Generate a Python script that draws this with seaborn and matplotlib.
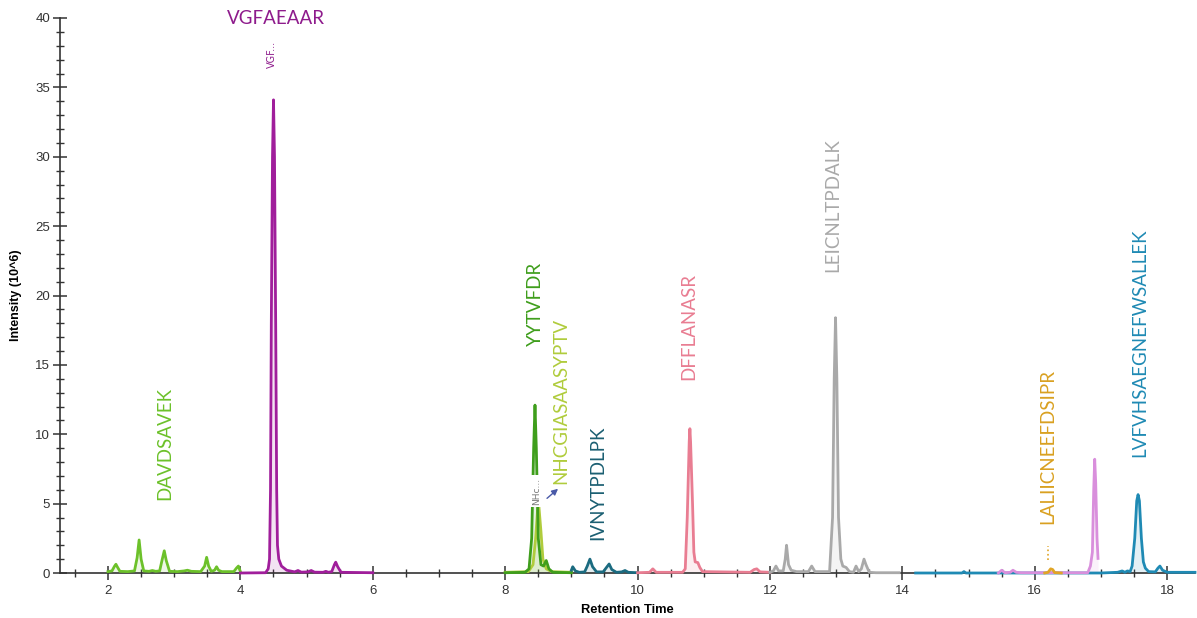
import numpy as np
import pandas as pd
import matplotlib
matplotlib.use('Agg')
import matplotlib.pyplot as plt
from matplotlib.ticker import MultipleLocator
import seaborn as sns

# ---- traces: (retention time, intensity 10^6) vertices ----
davdsavek_t = [2.00, 2.06, 2.10, 2.12, 2.14, 2.18, 2.30, 2.40, 2.44, 2.47, 2.50, 2.54, 2.62, 2.67, 2.72,
               2.78, 2.82, 2.85, 2.88, 2.93, 3.05, 3.15, 3.20, 3.26, 3.40, 3.46, 3.49, 3.52, 3.56, 3.61,
               3.64, 3.67, 3.72, 3.90, 3.94, 3.97, 4.00]
davdsavek_y = [0.10, 0.15, 0.50, 0.63, 0.45, 0.12, 0.10, 0.15, 1.10, 2.38, 1.00, 0.15, 0.12, 0.18, 0.12,
               0.15, 1.00, 1.60, 0.90, 0.12, 0.10, 0.15, 0.20, 0.12, 0.10, 0.50, 1.13, 0.50, 0.12, 0.20,
               0.45, 0.20, 0.10, 0.10, 0.35, 0.50, 0.10]

vgfaeaar_t = [4.00, 4.38, 4.42, 4.44, 4.455, 4.467, 4.485, 4.50, 4.515, 4.533, 4.548, 4.56, 4.58, 4.62,
              4.70, 4.82, 4.87, 4.92, 5.02, 5.07, 5.12, 5.25, 5.29, 5.33, 5.38, 5.42, 5.44, 5.47, 5.52, 6.00]
vgfaeaar_y = [0.00, 0.02, 0.30, 1.0, 6.0, 18.0, 30.0, 34.1, 30.0, 18.0, 6.0, 2.0, 1.0, 0.5,
              0.20, 0.08, 0.18, 0.06, 0.08, 0.18, 0.06, 0.05, 0.12, 0.05, 0.10, 0.60, 0.78, 0.45, 0.05, 0.02]

yytvfdr_t = [8.00, 8.30, 8.36, 8.40, 8.43, 8.45, 8.47, 8.50, 8.54, 8.58, 8.62, 8.66, 8.72, 9.00]
yytvfdr_y = [0.02, 0.05, 0.3, 2.5, 9.0, 12.1, 9.0, 2.5, 0.6, 0.5, 0.9, 0.3, 0.05, 0.02]

nhcg_t = [8.00, 8.35, 8.42, 8.46, 8.49, 8.51, 8.54, 8.57, 8.62, 8.70, 9.00]
nhcg_y = [0.05, 0.10, 0.6, 2.5, 4.6, 4.75, 3.0, 1.0, 0.3, 0.1, 0.05]

ivny_t = [9.00, 9.02, 9.06, 9.12, 9.20, 9.24, 9.28, 9.32, 9.38, 9.48, 9.53, 9.57, 9.61, 9.68, 9.76,
          9.81, 9.86, 9.95, 10.0]
ivny_y = [0.2, 0.45, 0.15, 0.05, 0.08, 0.5, 1.0, 0.45, 0.08, 0.08, 0.4, 0.65, 0.25, 0.05, 0.08,
          0.18, 0.05, 0.03, 0.02]

dffl_t = [10.00, 10.18, 10.23, 10.28, 10.68, 10.72, 10.75, 10.78, 10.79, 10.80, 10.83, 10.85, 10.87,
          10.91, 10.94, 10.98, 11.70, 11.76, 11.80, 11.85, 12.00]
dffl_y = [0.02, 0.05, 0.3, 0.05, 0.05, 0.3, 4.0, 9.5, 10.4, 9.5, 5.0, 1.5, 0.8,
          0.75, 0.4, 0.1, 0.05, 0.25, 0.3, 0.08, 0.05]

leic_t = [12.00, 12.05, 12.09, 12.13, 12.20, 12.23, 12.25, 12.28, 12.32, 12.40, 12.58, 12.63, 12.68,
          12.90, 12.945, 12.97, 12.99, 13.01, 13.035, 13.07, 13.10, 13.15, 13.20, 13.26, 13.30, 13.34,
          13.38, 13.42, 13.45, 13.50, 13.60, 13.95]
leic_y = [0.05, 0.15, 0.5, 0.15, 0.15, 1.0, 2.0, 0.6, 0.2, 0.1, 0.1, 0.5, 0.1,
          0.1, 4.0, 14.0, 18.4, 14.0, 4.0, 1.0, 0.5, 0.4, 0.1, 0.05, 0.5, 0.1,
          0.3, 1.0, 0.6, 0.05, 0.02, 0.02]

lvfv_t = [14.20, 14.90, 14.93, 14.96, 17.00, 17.25, 17.32, 17.36, 17.40, 17.44, 17.47, 17.51, 17.54,
          17.56, 17.58, 17.61, 17.64, 17.67, 17.72, 17.82, 17.86, 17.89, 17.93, 18.00, 18.42]
lvfv_y = [0.0, 0.0, 0.1, 0.0, 0.0, 0.05, 0.15, 0.05, 0.15, 0.1, 0.5, 2.5, 5.2,
          5.65, 5.2, 2.5, 0.8, 0.35, 0.1, 0.08, 0.35, 0.5, 0.2, 0.05, 0.05]

violet_t = [15.45, 15.50, 15.55, 15.63, 15.67, 15.72, 15.80, 16.80, 16.84, 16.87, 16.89, 16.905, 16.92,
            16.94, 16.955]
violet_y = [0.0, 0.2, 0.02, 0.05, 0.2, 0.05, 0.02, 0.02, 0.5, 1.5, 6.0, 8.2, 6.5, 2.5, 1.05]

lalii_t = [16.15, 16.20, 16.24, 16.27, 16.30, 16.40]
lalii_y = [0.0, 0.05, 0.3, 0.25, 0.03, 0.0]

traces = [
    ('DAVDSAVEK', davdsavek_t, davdsavek_y, '#6cc12a'),
    ('VGFAEAAR', vgfaeaar_t, vgfaeaar_y, '#a01e9b'),
    ('NHCGIASAASYPTV', nhcg_t, nhcg_y, '#b0cc3c'),
    ('YYTVFDR', yytvfdr_t, yytvfdr_y, '#3f9e1c'),
    ('IVNYTPDLPK', ivny_t, ivny_y, '#1b6b80'),
    ('DFFLANASR', dffl_t, dffl_y, '#e97d92'),
    ('LEICNLTPDALK', leic_t, leic_y, '#a9a9a9'),
    ('LVFVHSAEGNEFWSALLEK', lvfv_t, lvfv_y, '#1f8ab4'),
    ('violet', violet_t, violet_y, '#d98fdc'),
    ('LALIICNEEFDSIPR', lalii_t, lalii_y, '#e0a526'),
]

# peptide labels: text, x, y, colour
label_text = ['VGFAEAAR', 'DAVDSAVEK', 'YYTVFDR', 'NHCGIASAASYPTV', 'IVNYTPDLPK', 'DFFLANASR',
              'LEICNLTPDALK', 'LALIICNEEFDSIPR', 'LVFVHSAEGNEFWSALLEK']
label_x = [4.54, 2.86, 8.45, 8.84, 9.40, 10.78, 12.95, 16.20, 17.59]
label_y = [40.0, 9.3, 19.4, 12.4, 6.5, 17.8, 26.5, 9.1, 16.6]
label_color = ['#8e1b8c', '#6cc12a', '#3f9e1c', '#b0cc3c', '#1b5f72', '#e97d92', '#a9a9a9',
               '#d9a020', '#1f8ab4']

df = pd.concat([pd.DataFrame({'time': t, 'intensity': y, 'peptide': name})
                for name, t, y, _ in traces], ignore_index=True)
palette = {name: c for name, _, _, c in traces}

fig = plt.figure(figsize=(11.97, 6.18), dpi=100)
ax = fig.add_axes([60 / 1197, 1 - 573 / 618, 1135 / 1197, 555 / 618])

sns.lineplot(data=df, x='time', y='intensity', hue='peptide', palette=palette,
             units='peptide', estimator=None, sort=False, legend=False, lw=2, ax=ax, zorder=3)
for line in ax.lines:
    line.set_clip_on(False)
for name, t, y, c in traces:
    ax.fill_between(t, 0, y, color=c, alpha=0.12, lw=0, zorder=2)

# little dotted marker at the LALIICNEEFDSIPR peak
ax.plot([16.2, 16.2], [0.95, 1.95], ls=':', color='#e0a526', lw=1.2)

for txt, x, y, c in zip(label_text, label_x, label_y, label_color):
    rot = 0 if txt == 'VGFAEAAR' else 90
    ax.text(x, y, txt, color=c, rotation=rot, ha='center', va='center',
            fontsize=13.5, family='Lato', clip_on=False)

# tiny truncated annotations
ax.text(4.48, 37.4, 'VGF...', color='#8e1b8c', rotation=90, ha='center', va='center', fontsize=7)
ax.text(8.48, 5.9, 'NHc...', color='#777777', rotation=90, ha='center', va='center', fontsize=6.5,
        bbox=dict(facecolor='white', edgecolor='none', pad=1.5), zorder=5)
ax.annotate('', xy=(8.83, 6.2), xytext=(8.60, 5.25),
            arrowprops=dict(arrowstyle='-|>', color='#4a5aa8', lw=1, mutation_scale=9))

ax.set_xlim(1.275, 18.42)
ax.set_ylim(0, 40)
ax.xaxis.set_major_locator(MultipleLocator(2))
ax.xaxis.set_minor_locator(MultipleLocator(0.5))
ax.yaxis.set_major_locator(MultipleLocator(5))
ax.yaxis.set_minor_locator(MultipleLocator(1))
ax.tick_params(which='major', direction='inout', length=10, width=1.1, color='#333333',
               labelsize=9.5, labelcolor='#333333')
ax.tick_params(which='minor', direction='inout', length=6, width=1, color='#333333')
ax.tick_params(axis='x', which='major', pad=4)
ax.tick_params(axis='y', which='major', pad=2)
for lab in ax.get_xticklabels() + ax.get_yticklabels():
    lab.set_family('Liberation Sans')

for s in ['top', 'right']:
    ax.spines[s].set_visible(False)
for s in ['left', 'bottom']:
    ax.spines[s].set_color('#333333')
    ax.spines[s].set_linewidth(1.2)

ax.set_xlabel('Retention Time', fontsize=9.3, fontweight='bold', family='Liberation Sans', labelpad=5)
ax.set_ylabel('Intensity (10^6)', fontsize=9, fontweight='bold', family='Liberation Sans', labelpad=10)

fig.savefig('out.png', dpi=100)
